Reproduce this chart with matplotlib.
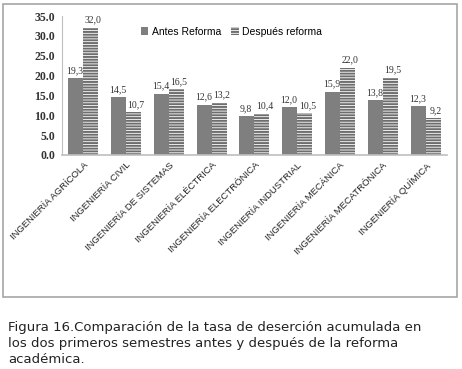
import matplotlib
matplotlib.use("Agg")
import matplotlib.pyplot as plt
import numpy as np
from matplotlib.patches import Rectangle

categories = ["INGENIERÍA AGRÍCOLA", "INGENIERÍA CIVIL", "INGENIERÍA DE SISTEMAS",
              "INGENIERÍA ELÉCTRICA", "INGENIERÍA ELECTRÓNICA", "INGENIERÍA INDUSTRIAL",
              "INGENIERÍA MECÁNICA", "INGENIERÍA MECATRÓNICA", "INGENIERÍA QUÍMICA"]
antes = [19.3, 14.5, 15.4, 12.6, 9.8, 12.0, 15.9, 13.8, 12.3]
despues = [32.0, 10.7, 16.5, 13.2, 10.4, 10.5, 22.0, 19.5, 9.2]
yticks = [0, 5, 10, 15, 20, 25, 30, 35]

plt.rcParams['hatch.linewidth'] = 1.4
plt.rcParams['hatch.color'] = '#6e6e6e'

fig = plt.figure(figsize=(4.62, 3.69), dpi=100)
fig.patch.set_facecolor('white')

# chart border
fig.add_artist(Rectangle((0.0065, 0.195), 0.983, 0.794, transform=fig.transFigure,
                         fill=False, edgecolor='#a6a6a6', linewidth=1.2))

ax = fig.add_axes([0.134, 0.580, 0.8335, 0.3766])
x = np.arange(len(categories))
w = 0.35
ax.bar(x - w/2, antes, w, color='#7f7f7f', edgecolor='#7f7f7f', linewidth=0,
       label='Antes Reforma')
ax.bar(x + w/2, despues, w, color='white', edgecolor='#6e6e6e', linewidth=0,
       hatch='------', label='Después reforma')

serif = 'Liberation Serif'
for xi, v in zip(x, antes):
    ax.text(xi - w/2 - 0.02, v + 0.8, f"{v:.1f}".replace('.', ','), ha='center', va='bottom',
            fontsize=7, family=serif, color='#333333')
for xi, v in zip(x, despues):
    ax.text(xi + w/2 + 0.06, v + 0.8, f"{v:.1f}".replace('.', ','), ha='center', va='bottom',
            fontsize=7, family=serif, color='#333333')

ax.set_xlim(-0.5, len(categories) - 0.5)
ax.set_ylim(0, 35)
ax.set_yticks(yticks)
ax.set_yticklabels([f"{t:.1f}" for t in yticks], family=serif, fontsize=8.5, fontweight='bold',
                   color='#333333')
ax.set_xticks(x)
ax.set_xticklabels(categories, rotation=45, ha='right', rotation_mode='anchor',
                   fontsize=6.8, family='Liberation Sans', color='#222222')
ax.tick_params(axis='y', length=0, pad=5)
ax.tick_params(axis='x', length=0, pad=4)
for s in ['top', 'right']:
    ax.spines[s].set_visible(False)
ax.spines['left'].set_color('#bfbfbf')
ax.spines['bottom'].set_color('#bfbfbf')
ax.spines['bottom'].set_linewidth(1.2)

ax.legend(loc='upper center', bbox_to_anchor=(0.44, 0.99), ncol=2, frameon=False,
          handlelength=0.7, handleheight=0.7, handletextpad=0.3,
          columnspacing=1.0, prop={'family': 'Liberation Sans', 'size': 7.5})

fig.text(0.017, 0.068,
         "Figura 16.Comparación de la tasa de deserción acumulada en\n"
         "los dos primeros semestres antes y después de la reforma\n"
         "académica.",
         fontsize=9.5, family='DejaVu Sans', color='#222222', va='center', ha='left',
         linespacing=1.3)

fig.savefig("out.png", dpi=100, facecolor='white')
